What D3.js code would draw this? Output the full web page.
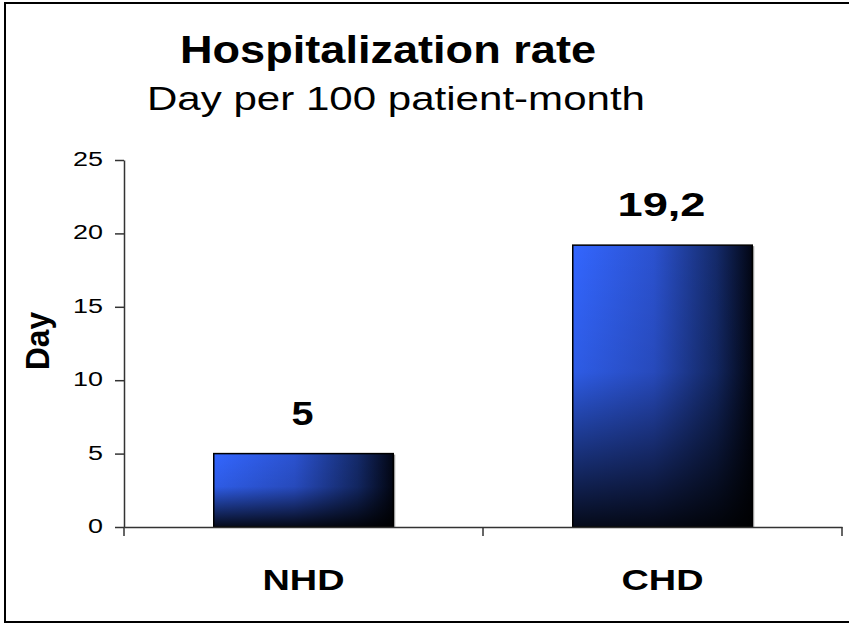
<!DOCTYPE html>
<html>
<head>
<meta charset="utf-8">
<script src="https://cdn.jsdelivr.net/npm/d3@7"></script>
<style>
  body { margin: 0; background: #fff; }
  svg { display: block; font-family: "Liberation Sans", Arial, sans-serif; }
</style>
</head>
<body>
<div id="chart"></div>
<script>
// Data
const categories = ["NHD", "CHD"];
const values = [5, 19.2];
const valueLabels = ["5", "19,2"];
const yTicks = [0, 5, 10, 15, 20, 25];

const width = 849;
const height = 625;
const margin = { top: 160, right: 7, bottom: 98, left: 124 };

const svg = d3.select("#chart")
    .append("svg")
    .attr("width", width)
    .attr("height", height);

// outer frame (right edge runs off the picture)
svg.append("rect")
    .attr("x", 5)
    .attr("y", 3)
    .attr("width", width + 10)
    .attr("height", 619)
    .attr("fill", "none")
    .attr("stroke", "#000")
    .attr("stroke-width", 2);

// Gradients
const defs = svg.append("defs");
const gH = defs.append("linearGradient")
    .attr("id", "barH")
    .attr("x1", "0").attr("y1", "0").attr("x2", "1").attr("y2", "0");
gH.append("stop").attr("offset", "0%").attr("stop-color", "#3366ff");
gH.append("stop").attr("offset", "45%").attr("stop-color", "#2b52d0");
gH.append("stop").attr("offset", "80%").attr("stop-color", "#142a6a");
gH.append("stop").attr("offset", "100%").attr("stop-color", "#020614");

const gV = defs.append("linearGradient")
    .attr("id", "barV")
    .attr("x1", "0").attr("y1", "0").attr("x2", "0").attr("y2", "1");
gV.append("stop").attr("offset", "0%").attr("stop-color", "#000").attr("stop-opacity", 0);
gV.append("stop").attr("offset", "45%").attr("stop-color", "#000").attr("stop-opacity", 0.1);
gV.append("stop").attr("offset", "100%").attr("stop-color", "#000").attr("stop-opacity", 0.9);

// Scales
const x = d3.scaleBand()
    .domain(categories)
    .range([margin.left, width - margin.right])
    .paddingInner(0.5)
    .paddingOuter(0.25);

const y = d3.scaleLinear()
    .domain([0, 25])
    .range([height - margin.bottom, margin.top]);

// Bars
const bars = svg.selectAll(".bar")
    .data(categories)
    .enter()
    .append("g")
    .attr("class", "bar");

// thin grey shadow
bars.append("rect")
    .attr("x", d => x(d) + 2)
    .attr("y", (d, i) => y(values[i]) + 1)
    .attr("width", x.bandwidth())
    .attr("height", (d, i) => y(0) - y(values[i]))
    .attr("fill", "#9a9a9a");

bars.append("rect")
    .attr("x", d => x(d))
    .attr("y", (d, i) => y(values[i]))
    .attr("width", x.bandwidth())
    .attr("height", (d, i) => y(0) - y(values[i]))
    .attr("fill", "url(#barH)");

bars.append("rect")
    .attr("x", d => x(d))
    .attr("y", (d, i) => y(values[i]))
    .attr("width", x.bandwidth())
    .attr("height", (d, i) => y(0) - y(values[i]))
    .attr("fill", "url(#barV)")
    .attr("stroke", "#000")
    .attr("stroke-width", 1.5);

// Value labels (the source picture is stretched sideways, hence textLength)
bars.append("text")
    .attr("x", d => x(d) + x.bandwidth() / 2 - 1)
    .attr("y", (d, i) => y(values[i]) - 29)
    .attr("text-anchor", "middle")
    .attr("textLength", (d, i) => valueLabels[i].length * 22)
    .attr("lengthAdjust", "spacingAndGlyphs")
    .style("font-size", "33px")
    .style("font-weight", "bold")
    .text((d, i) => valueLabels[i]);

// Y axis
const yAxis = svg.append("g")
    .attr("transform", `translate(${margin.left},0)`)
    .call(d3.axisLeft(y).tickValues(yTicks).tickSize(9).tickSizeOuter(0).tickPadding(12));
yAxis.select(".domain").attr("stroke", "#333").attr("stroke-width", 1.5);
yAxis.selectAll(".tick line").attr("stroke", "#333").attr("stroke-width", 1.5);
yAxis.selectAll(".tick text")
    .style("font-family", "Liberation Sans, Arial, sans-serif")
    .style("font-size", "19.5px")
    .attr("dy", "0.28em")
    .attr("textLength", d => String(d).length * 15)
    .attr("lengthAdjust", "spacingAndGlyphs")
    .attr("fill", "#000");

// X axis
const xAxis = svg.append("g")
    .attr("transform", `translate(0,${y(0)})`)
    .call(d3.axisBottom(x).tickSize(0).tickSizeOuter(0).tickPadding(63));
xAxis.select(".domain").attr("stroke", "#333").attr("stroke-width", 1.5);
xAxis.selectAll(".tick text")
    .style("font-family", "Liberation Sans, Arial, sans-serif")
    .style("font-size", "30px")
    .style("font-weight", "bold")
    .attr("dy", "0")
    .attr("textLength", 82)
    .attr("lengthAdjust", "spacingAndGlyphs")
    .attr("fill", "#000");

// category separators
const seps = d3.range(categories.length + 1).map(i => x.range()[0] + i * x.step());
xAxis.selectAll(".sep")
    .data(seps)
    .enter()
    .append("line")
    .attr("class", "sep")
    .attr("x1", d => d).attr("x2", d => d)
    .attr("y1", 0).attr("y2", 9)
    .attr("stroke", "#333")
    .attr("stroke-width", 1.5);

// Titles
svg.append("text")
    .attr("x", 388)
    .attr("y", 63)
    .attr("text-anchor", "middle")
    .attr("textLength", 416)
    .attr("lengthAdjust", "spacingAndGlyphs")
    .style("font-size", "39px")
    .style("font-weight", "bold")
    .text("Hospitalization rate");

svg.append("text")
    .attr("x", 396)
    .attr("y", 110)
    .attr("text-anchor", "middle")
    .attr("textLength", 498)
    .attr("lengthAdjust", "spacingAndGlyphs")
    .style("font-size", "34px")
    .text("Day per 100 patient-month");

svg.append("text")
    .attr("transform", `translate(49,341) rotate(-90)`)
    .attr("text-anchor", "middle")
    .attr("textLength", 58)
    .attr("lengthAdjust", "spacingAndGlyphs")
    .style("font-size", "33px")
    .style("font-weight", "bold")
    .text("Day");
</script>
</body>
</html>
